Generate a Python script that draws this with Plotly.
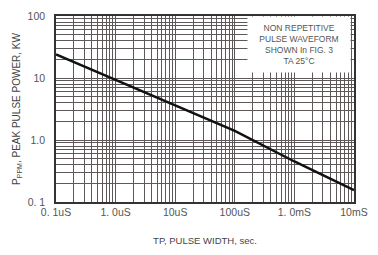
import plotly.graph_objects as go

# Data
pulse_width_s = [1e-7, 1e-6, 1e-5, 1e-4, 1e-3, 1e-2]
peak_power_kw = [24, 9.4, 3.6, 1.4, 0.45, 0.155]

x_tick_vals = [1e-7, 1e-6, 1e-5, 1e-4, 1e-3, 1e-2]
x_tick_text = ["0. 1uS", "1. 0uS", "10uS", "100uS", "1. 0mS", "10mS"]
y_tick_vals = [0.1, 1, 10, 100]
y_tick_text = ["0. 1", "1.0", "10", "100"]

note_lines = ["NON REPETITIVE", "PULSE WAVEFORM", "SHOWN In FIG. 3", "TA 25°C"]

grid_col = "#5e5858"
font_fam = "Liberation Sans, Arial, sans-serif"

fig = go.Figure()
fig.add_trace(go.Scatter(x=pulse_width_s, y=peak_power_kw, mode="lines",
                         line=dict(color="#111111", width=2.5), showlegend=False,
                         hoverinfo="skip"))

fig.update_xaxes(type="log", range=[-7, -2], tickvals=x_tick_vals, ticktext=x_tick_text,
                 showgrid=True, gridcolor=grid_col, gridwidth=1,
                 minor=dict(dtick="D1", showgrid=True, gridcolor=grid_col, gridwidth=1, ticks=""),
                 showline=True, mirror=True, linecolor="#333333", linewidth=1.5,
                 ticks="", tickfont=dict(size=10.5, color="#555555", family=font_fam),
                 title=dict(text="TP, PULSE WIDTH, sec.", font=dict(size=9.5, color="#444444", family=font_fam),
                            standoff=20),
                 zeroline=False)
fig.update_yaxes(type="log", range=[-1, 2], tickvals=y_tick_vals, ticktext=y_tick_text,
                 showgrid=True, gridcolor=grid_col, gridwidth=1,
                 minor=dict(dtick="D1", showgrid=True, gridcolor=grid_col, gridwidth=1, ticks=""),
                 showline=True, mirror=True, linecolor="#333333", linewidth=1.5,
                 ticks="", ticklabelstandoff=7,
                 tickfont=dict(size=10.5, color="#555555", family=font_fam),
                 title=dict(text="P<sub>PPM</sub>, PEAK PULSE POWER, KW",
                            font=dict(size=10, color="#444444", family=font_fam), standoff=5),
                 zeroline=False)

# note in a white box in the top-right corner
fig.add_annotation(xref="paper", yref="paper", x=0.642, y=1.0, xanchor="left", yanchor="top",
                   text="<br>".join(note_lines), showarrow=False, align="center",
                   width=100, height=53, bgcolor="white", borderpad=1, valign="middle",
                   font=dict(size=8.5, color="#555555", family=font_fam))

fig.update_layout(width=378, height=255, margin=dict(l=56, r=15, t=10, b=51),
                  paper_bgcolor="white", plot_bgcolor="white")

fig.write_html("out.html", config={"displayModeBar": False},
               post_script="document.body.style.margin='0';document.body.style.overflow='hidden';")
